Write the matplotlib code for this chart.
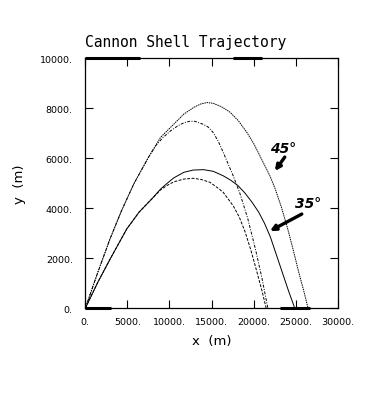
import matplotlib
matplotlib.use("Agg")
import matplotlib.pyplot as plt

# 45 deg, curve A (fine dotted, higher)
x45a = [0, 1500, 2930, 4300, 5800, 7510, 8950, 10530, 11720, 12910, 13700, 14450, 15200, 16200, 17180, 18200, 19190, 20000, 20750, 21940, 22600, 23300, 24000, 24700, 25400, 26000, 26480]
y45a = [0, 1450, 2770, 3900, 5000, 6040, 6840, 7370, 7770, 8040, 8170, 8230, 8200, 8060, 7850, 7500, 7040, 6600, 6100, 5300, 4750, 4050, 3250, 2350, 1400, 650, 0]
# 45 deg, curve B (dash-dot, lower)
x45b = [0, 1500, 2930, 4300, 5800, 7510, 8360, 9200, 10140, 11000, 11720, 12400, 13030, 14010, 14600, 15200, 15800, 16390, 17580, 18370, 19300, 20200, 21000, 21700]
y45b = [0, 1450, 2770, 3900, 5000, 6040, 6500, 6820, 7100, 7300, 7420, 7480, 7480, 7360, 7250, 7030, 6680, 6240, 5300, 4600, 3600, 2400, 1200, 0]
# 35 deg, curve A (solid, higher)
x35a = [0, 1500, 3000, 4920, 6400, 7890, 8950, 9800, 10530, 11720, 12830, 14050, 15200, 16390, 17300, 18170, 19000, 19800, 20600, 21300, 22000, 22700, 23400, 24150, 24900]
y35a = [0, 1050, 2000, 3170, 3850, 4370, 4770, 5020, 5220, 5440, 5530, 5545, 5480, 5300, 5120, 4900, 4600, 4250, 3850, 3400, 2850, 2150, 1450, 700, 0]
# 35 deg, curve B (dashed, lower)
x35b = [0, 1500, 3000, 4920, 6400, 7890, 8950, 9800, 10530, 11720, 12850, 13800, 14810, 15800, 16390, 17580, 18300, 19000, 19700, 20400, 21000, 21500]
y35b = [0, 1050, 2000, 3170, 3850, 4370, 4740, 4930, 5060, 5170, 5200, 5150, 5040, 4800, 4640, 4100, 3650, 3050, 2300, 1450, 700, 0]

xticks = [0, 5000, 10000, 15000, 20000, 25000, 30000]
yticks = [0, 2000, 4000, 6000, 8000, 10000]

fig = plt.figure(figsize=(3.68, 4.02), dpi=100)
ax = fig.add_axes([0.2318, 0.2306, 0.6859, 0.6219])
lw = 0.7
ax.plot(x45a, y45a, color="black", lw=lw, ls=(0, (1.5, 0.8)))
ax.plot(x45b, y45b, color="black", lw=lw, ls=(0, (3, 1.5, 1, 1.5)))
ax.plot(x35a, y35a, color="black", lw=lw, ls="-")
ax.plot(x35b, y35b, color="black", lw=lw, ls=(0, (3, 1.5)))

ax.set_xlim(0, 30000)
ax.set_ylim(0, 10000)
ax.set_xticks(xticks)
ax.set_yticks(yticks)
ax.set_xticklabels([f"{v}." for v in xticks])
ax.set_yticklabels([f"{v}." for v in yticks])
ax.tick_params(direction="in", length=6, width=0.8, top=True, right=True,
               labelsize=6.8, colors="black")
ax.tick_params(axis="x", pad=6)
ax.tick_params(axis="y", pad=9)
for s in ax.spines.values():
    s.set_linewidth(0.9)

# thick scan marks along the frame
for (a, b, yv) in [(0.0, 0.215, 1.0), (0.585, 0.70, 1.0), (0.0, 0.10, 0.0), (0.77, 0.89, 0.0)]:
    ax.plot([a, b], [yv, yv], transform=ax.transAxes, color="black", lw=2.2,
            clip_on=False, solid_capstyle="butt")

ax.set_title("Cannon Shell Trajectory", fontsize=10.5, pad=9, loc="left",
             family="DejaVu Sans Mono")
ax.set_xlabel("x  (m)", fontsize=9.5, labelpad=6)
ax.set_ylabel("y  (m)", fontsize=9.5, labelpad=10)

ax.text(21940, 6250, "45°", fontsize=10, fontweight="bold", fontstyle="italic")
ax.text(24900, 4050, "35°", fontsize=10, fontweight="bold", fontstyle="italic")
ax.annotate("", xy=(22530, 5490), xytext=(23710, 6050),
            arrowprops=dict(arrowstyle="-|>", lw=2.4, color="black", mutation_scale=8,
                            shrinkA=0, shrinkB=0))
ax.annotate("", xy=(21940, 3090), xytext=(25730, 3770),
            arrowprops=dict(arrowstyle="-|>", lw=2.4, color="black", mutation_scale=8,
                            shrinkA=0, shrinkB=0))

fig.savefig("out.png", dpi=100)
